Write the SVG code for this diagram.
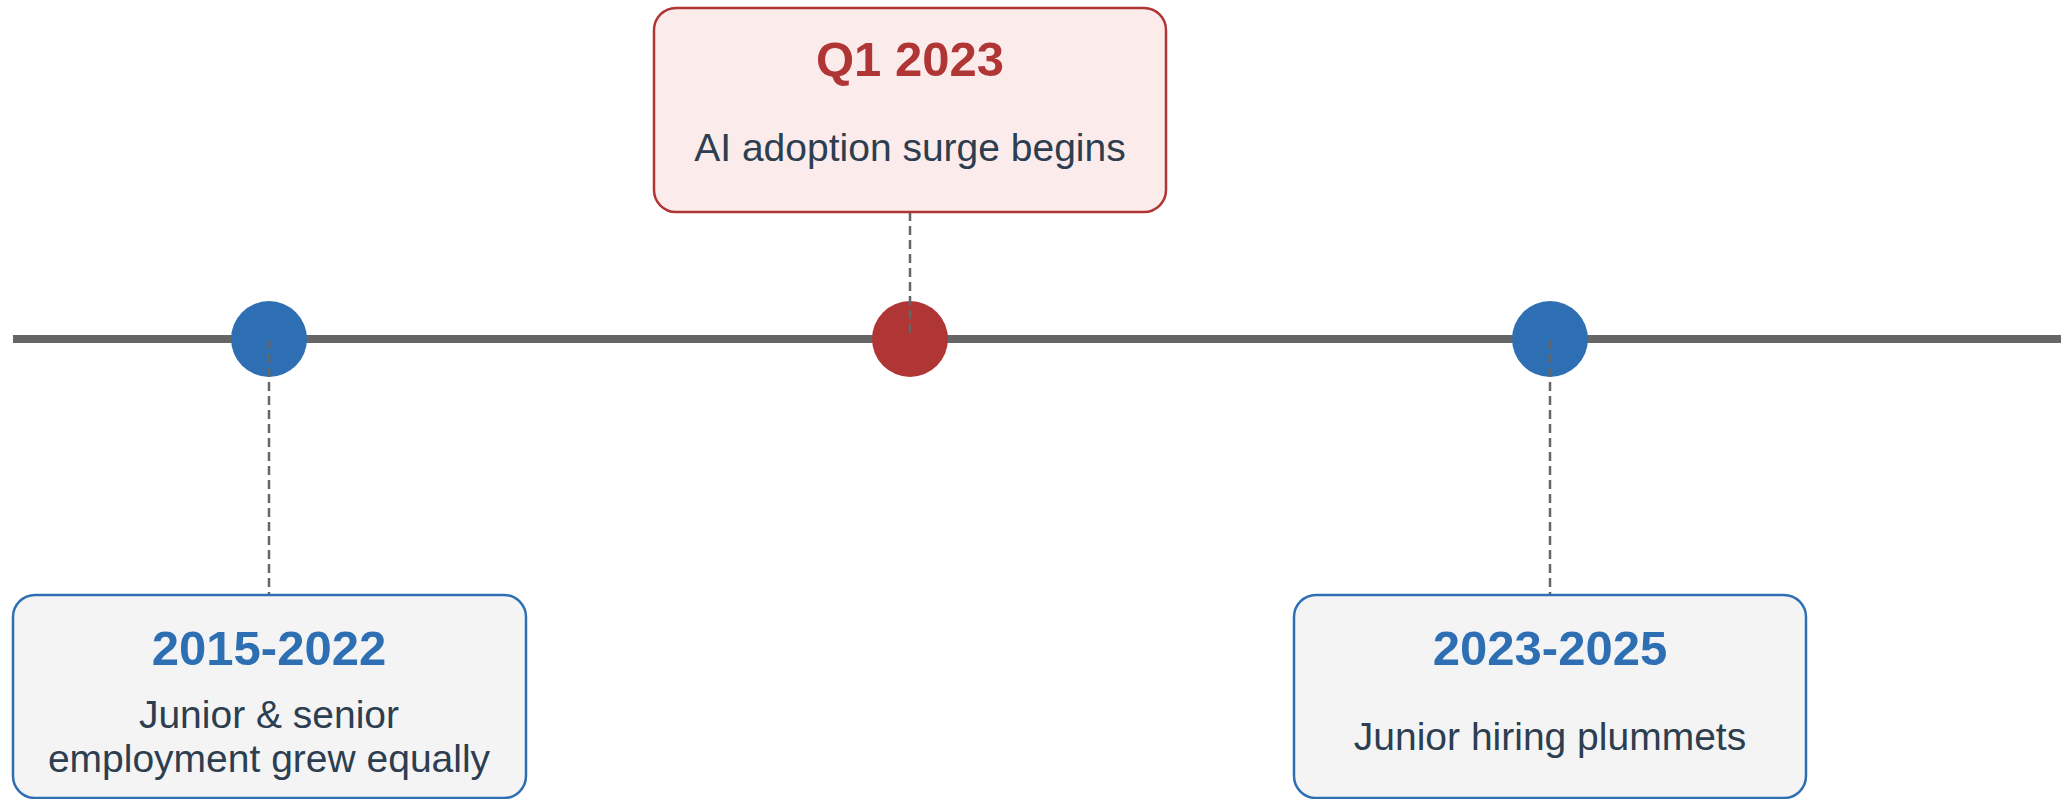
<svg xmlns="http://www.w3.org/2000/svg" width="2061" height="799" viewBox="0 0 2061 799">
<style>
.box-blue{fill:#f4f4f4;stroke:#2e6fb3;stroke-width:2.5}
.box-red{fill:#fbebeb;stroke:#b03535;stroke-width:2.5}
.title{font-family:"Liberation Sans",Arial,sans-serif;font-weight:bold;font-size:49px;text-anchor:middle}
.t-blue{fill:#2e6fb3}
.t-red{fill:#b03535}
.desc{font-family:"Liberation Sans",Arial,sans-serif;font-size:39px;fill:#2c3e50;text-anchor:middle}
.dash{stroke:#666;stroke-width:2.5;stroke-dasharray:9 5;fill:none}
</style>
<rect width="2061" height="799" fill="#ffffff"/>
<g id="timeline">
<line x1="13" y1="339" x2="2061" y2="339" stroke="#666" stroke-width="8"/>
</g>
<g id="dot-2015">
<circle cx="269" cy="339" r="38" fill="#2e6fb3"/>
</g>
<g id="dot-q1-2023">
<circle cx="910" cy="339" r="38" fill="#b03535"/>
</g>
<g id="dot-2023">
<circle cx="1550" cy="339" r="38" fill="#2e6fb3"/>
</g>
<g id="connectors">
<line class="dash" x1="269" y1="340" x2="269" y2="595"/>
<line class="dash" x1="910" y1="212" x2="910" y2="338"/>
<line class="dash" x1="1550" y1="340" x2="1550" y2="595"/>
</g>
<g id="node-q1-2023">
<rect class="box-red" x="654" y="8" width="512" height="204" rx="22"/>
<text class="title t-red" x="910" y="76">Q1 2023</text>
<text class="desc" x="910" y="161">AI adoption surge begins</text>
</g>
<g id="node-2015-2022">
<rect class="box-blue" x="13" y="595" width="513" height="203" rx="22"/>
<text class="title t-blue" x="269" y="665">2015-2022</text>
<text class="desc" x="269" y="728">Junior &amp; senior</text>
<text class="desc" x="269" y="772">employment grew equally</text>
</g>
<g id="node-2023-2025">
<rect class="box-blue" x="1294" y="595" width="512" height="203" rx="22"/>
<text class="title t-blue" x="1550" y="665">2023-2025</text>
<text class="desc" x="1550" y="750">Junior hiring plummets</text>
</g>
</svg>
